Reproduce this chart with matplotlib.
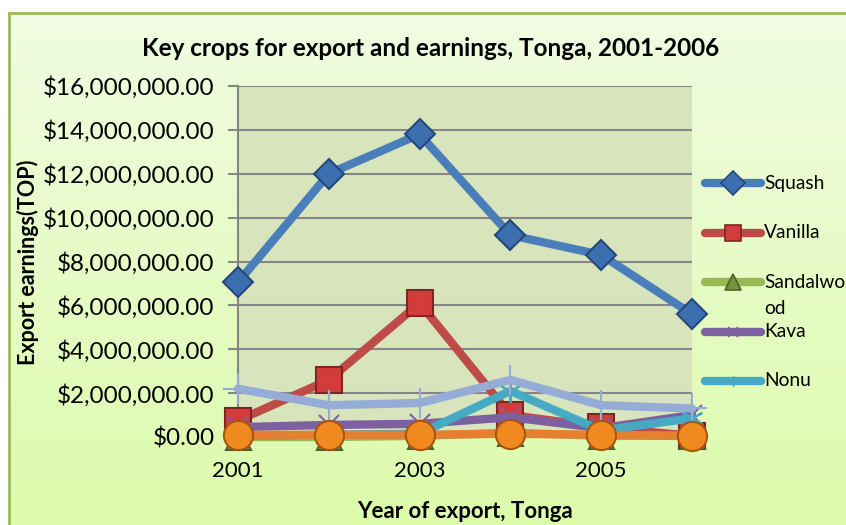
import numpy as np
import matplotlib.pyplot as plt
from matplotlib.lines import Line2D

plt.rcParams['font.family'] = ['Lato', 'DejaVu Sans']

# data
years = [2001, 2002, 2003, 2004, 2005, 2006]
squash = [7.05e6, 12.0e6, 13.8e6, 9.2e6, 8.3e6, 5.6e6]
vanilla = [0.75e6, 2.6e6, 6.1e6, 1.0e6, 0.45e6, 0.05e6]
sandalwood = [0.0, 0.0, 0.05e6, 0.2e6, 0.05e6, 0.05e6]
kava = [0.45e6, 0.55e6, 0.6e6, 0.9e6, 0.4e6, 1.0e6]
nonu = [0.05e6, 0.1e6, 0.15e6, 2.1e6, 0.3e6, 0.85e6]
series6 = [2.2e6, 1.45e6, 1.55e6, 2.6e6, 1.45e6, 1.3e6]
series7 = [0.1e6, 0.1e6, 0.1e6, 0.15e6, 0.1e6, 0.05e6]

W, H = 846, 525
fig = plt.figure(figsize=(W / 100, H / 100), dpi=100, facecolor='white')

# background panel with soft gradient and green frame
bg = fig.add_axes([9 / W, 0, 1 - 9 / W, (H - 13) / H])
grad = np.linspace(0, 1, 256).reshape(-1, 1)
top_c = np.array([0xf1, 0xfc, 0xe2]) / 255
bot_c = np.array([0xdc, 0xfb, 0xab]) / 255
img = top_c[None, None, :] * (1 - grad[:, :, None]) + bot_c[None, None, :] * grad[:, :, None]
bg.imshow(img, aspect='auto', extent=[0, 1, 0, 1])
bg.set_xlim(0, 1)
bg.set_ylim(0, 1)
bg.set_xticks([])
bg.set_yticks([])
for s in ['right', 'bottom']:
    bg.spines[s].set_visible(False)
for s in ['left', 'top']:
    bg.spines[s].set_color('#9bbb59')
    bg.spines[s].set_linewidth(2)

ax = fig.add_axes([238 / W, 88 / H, 454 / W, 351 / H])
ax.set_facecolor('#d8e4bc')

asterisk = (6, 2, 0)
styles = [
    (squash, 'Squash', '#4a7ebb', 'D', 15, '#3b6fb0', '#25487a'),
    (vanilla, 'Vanilla', '#be4b48', 's', 19, '#d23c3a', '#7f2624'),
    (sandalwood, 'Sandalwood', '#98b954', '^', 18, '#77933c', '#4f6228'),
    (kava, 'Kava', '#7d60a0', 'x', 15, '#7d60a0', '#7d60a0'),
    (nonu, 'Nonu', '#46aac5', asterisk, 16, '#46aac5', '#46aac5'),
    (series6, 'Series6', '#94acd6', '+', 22, '#94acd6', '#94acd6'),
    (series7, 'Series7', '#e48030', 'o', 21, '#f08a1e', '#a9560f'),
]

for vals, name, col, mk, ms, fc, ec in styles:
    ax.plot(years, vals, color=col, lw=6, marker=mk, markersize=ms,
            markerfacecolor=fc, markeredgecolor=ec, markeredgewidth=1.5,
            solid_capstyle='round', solid_joinstyle='round', clip_on=False, zorder=3)

ax.set_xlim(2001, 2006)
ax.set_ylim(0, 16e6)
ax.set_yticks(np.arange(0, 16e6 + 1, 2e6))
ax.set_yticklabels(['${:,.2f}'.format(v) for v in np.arange(0, 16e6 + 1, 2e6)])
ax.set_xticks(years)
ax.set_xticklabels(['2001', '', '2003', '', '2005', ''])
ax.grid(axis='y', color='#868686', lw=1.5)
ax.set_axisbelow(True)
ax.tick_params(axis='y', length=7, color='#868686', width=1.5, labelsize=17.5, pad=10)
ax.tick_params(axis='x', length=5, color='#868686', width=1.5, labelsize=16, pad=12)
for s in ['top', 'right']:
    ax.spines[s].set_visible(False)
for s in ['left', 'bottom']:
    ax.spines[s].set_color('#868686')
    ax.spines[s].set_linewidth(1.5)

fig.text(431 / W, 1 - 49 / H, 'Key crops for export and earnings, Tonga, 2001-2006',
         fontsize=17.5, fontweight='bold', ha='center', va='center')
fig.text(465 / W, 1 - 511 / H, 'Year of export, Tonga', fontsize=16,
         fontweight='bold', ha='center', va='center')
fig.text(28 / W, 1 - 262 / H, 'Export earnings(TOP)', fontsize=15.5,
         fontweight='bold', ha='center', va='center', rotation=90)

# legend (only the first five series are visible in the original)
leg_labels = ['Squash', 'Vanilla', 'Sandalwo', 'Kava', 'Nonu']
leg_sizes = [12, 11, 12, 7, 7]
for i, (vals, name, col, mk, ms, fc, ec) in enumerate(styles[:5]):
    y = 1 - (183 + 49.5 * i) / H
    fig.add_artist(Line2D([705 / W, 761 / W], [y, y], color=col, lw=6,
                          solid_capstyle='round'))
    fig.add_artist(Line2D([733 / W], [y], marker=mk, markersize=leg_sizes[i],
                          markerfacecolor=fc, markeredgecolor=ec, markeredgewidth=1.2))
    fig.text(764 / W, y, leg_labels[i], fontsize=13.8, va='center', ha='left')
fig.text(764 / W, 1 - 308 / H, 'od', fontsize=13.8, va='center', ha='left')

fig.savefig('out.png', dpi=100)
